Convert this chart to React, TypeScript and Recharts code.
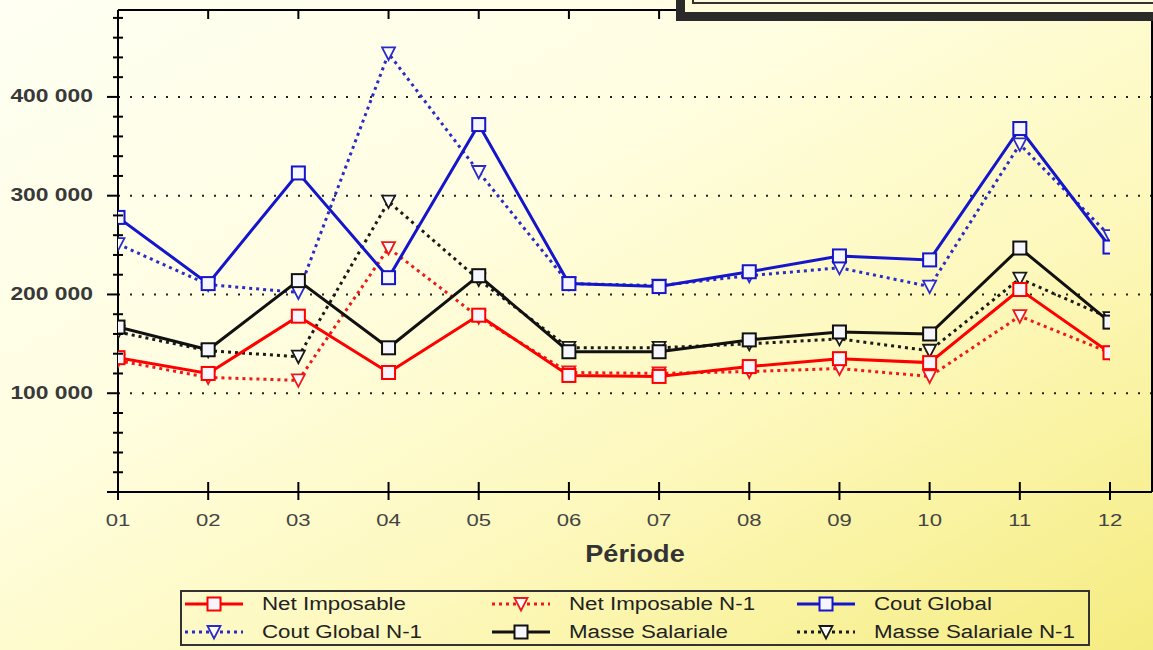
import React from 'react';
import { LineChart, Line, XAxis, YAxis, CartesianGrid, Legend, Label } from 'recharts';

const PERIODS = ['01', '02', '03', '04', '05', '06', '07', '08', '09', '10', '11', '12'];

const NET_IMPOSABLE = [136000, 120000, 178000, 121000, 179000, 118000, 117000, 127000, 135000, 131000, 205000, 141000];
const NET_IMPOSABLE_N1 = [133000, 116000, 113000, 247000, 177000, 121000, 120000, 122000, 125000, 117000, 178000, 141000];
const COUT_GLOBAL = [278000, 211000, 323000, 217000, 372000, 211000, 208000, 223000, 239000, 235000, 368000, 248000];
const COUT_GLOBAL_N1 = [251000, 210000, 202000, 444000, 324000, 211000, 209000, 219000, 227000, 208000, 352000, 259000];
const MASSE_SALARIALE = [167000, 144000, 214000, 146000, 219000, 142000, 142000, 154000, 162000, 160000, 247000, 172000];
const MASSE_SALARIALE_N1 = [162000, 143000, 137000, 294000, 215000, 146000, 146000, 150000, 155000, 143000, 216000, 176000];

const Y_TICKS = [0, 20000, 40000, 60000, 80000, 100000, 120000, 140000, 160000, 180000, 200000, 220000, 240000, 260000, 280000, 300000, 320000, 340000, 360000, 380000, 400000, 420000, 440000, 460000, 480000];
const Y_GRID = [100000, 200000, 300000, 400000];
const Y_LABELS: Record<number, string> = { 100000: '100 000', 200000: '200 000', 300000: '300 000', 400000: '400 000' };
const Y_MAX = 488000;
const X_TITLE = 'Période';

type Series = { key: string; name: string; values: number[]; color: string; dotted: boolean };

const SERIES: Series[] = [
  { key: 'ni', name: 'Net Imposable', values: NET_IMPOSABLE, color: '#FF0000', dotted: false },
  { key: 'ni1', name: 'Net Imposable N-1', values: NET_IMPOSABLE_N1, color: '#F01818', dotted: true },
  { key: 'cg', name: 'Cout Global', values: COUT_GLOBAL, color: '#1515CC', dotted: false },
  { key: 'cg1', name: 'Cout Global N-1', values: COUT_GLOBAL_N1, color: '#2B2BC8', dotted: true },
  { key: 'ms', name: 'Masse Salariale', values: MASSE_SALARIALE, color: '#111111', dotted: false },
  { key: 'ms1', name: 'Masse Salariale N-1', values: MASSE_SALARIALE_N1, color: '#1A1A1A', dotted: true },
];

const data = PERIODS.map((p, i) => {
  const row: Record<string, string | number> = { period: p };
  SERIES.forEach((s) => { row[s.key] = s.values[i]; });
  return row;
});

const FONT = 'Arial, "Liberation Sans", sans-serif';

const Marker = ({ cx, cy, color, dotted }: { cx: number; cy: number; color: string; dotted: boolean }) => {
  if (dotted) {
    return (
      <polygon
        points={`${cx - 6.5},${cy - 6} ${cx + 6.5},${cy - 6} ${cx},${cy + 6.5}`}
        fill="#FFFFFF"
        stroke={color}
        strokeWidth={1.8}
      />
    );
  }
  return <rect x={cx - 6.5} y={cy - 6.5} width={13} height={13} fill="#F6F6FF" stroke={color} strokeWidth={2} />;
};

const makeDot = (s: Series) => (props: any) => {
  const { cx, cy, index } = props;
  if (cx == null || cy == null) return <g key={`${s.key}-${index}`} />;
  return (
    <g key={`${s.key}-${index}`}>
      <Marker cx={cx} cy={cy} color={s.color} dotted={s.dotted} />
    </g>
  );
};

const LeftYTick = (props: any) => {
  const { x, y, payload } = props;
  const v = payload.value as number;
  const major = v % 100000 === 0;
  const label = Y_LABELS[v];
  return (
    <g>
      {major ? (
        <line x1={x - 11} x2={x} y1={y} y2={y} stroke="#000" strokeWidth={2} />
      ) : (
        <line x1={x - 5} x2={x + 5} y1={y} y2={y} stroke="#000" strokeWidth={2} />
      )}
      {label && (
        <text
          transform={`translate(${x - 25},${y + 5.5}) scale(1.27,1)`}
          textAnchor="end"
          fontFamily={FONT}
          fontWeight="bold"
          fontSize={18}
          fill="#383838"
        >
          {label}
        </text>
      )}
    </g>
  );
};

const RightYTick = (props: any) => {
  const { x, y, payload } = props;
  const v = payload.value as number;
  const major = v % 100000 === 0;
  return <line x1={x - (major ? 10 : 6)} x2={x} y1={y} y2={y} stroke="#000" strokeWidth={2} />;
};

const BottomXTick = (props: any) => {
  const { x, y, payload } = props;
  return (
    <g>
      <line x1={x} x2={x} y1={y - 10} y2={y + 8} stroke="#000" strokeWidth={2} />
      <text
        transform={`translate(${x},${y + 34}) scale(1.3,1)`}
        textAnchor="middle"
        fontFamily={FONT}
        fontSize={17}
        fill="#444"
      >
        {payload.value}
      </text>
    </g>
  );
};

const TopXTick = (props: any) => {
  const { x, y } = props;
  return <line x1={x} x2={x} y1={y} y2={y + 9} stroke="#000" strokeWidth={2} />;
};

const PeriodLabel = (props: any) => {
  const vb = props.viewBox || {};
  return (
    <text
      transform={`translate(${vb.x + vb.width / 2},${vb.y + 70}) scale(1.13,1)`}
      textAnchor="middle"
      fontFamily={FONT}
      fontWeight="bold"
      fontSize={24}
      fill="#333"
    >
      {X_TITLE}
    </text>
  );
};

const LEGEND_COLS = [5, 312, 617];
const LEGEND_ROWS = [14, 42];

const LegendBox = () => (
  <div
    style={{
      position: 'relative',
      width: 910,
      height: 56,
      border: '2px solid #333',
      boxSizing: 'border-box',
      fontFamily: FONT,
    }}
  >
    {SERIES.map((s, i) => {
      const col = LEGEND_COLS[i % 3];
      const row = LEGEND_ROWS[Math.floor(i / 3)];
      return (
        <div key={s.key}>
          <svg
            width={58}
            height={20}
            style={{ position: 'absolute', left: col - 2, top: row - 12 }}
          >
            <line
              x1={0}
              x2={58}
              y1={10}
              y2={10}
              stroke={s.color}
              strokeWidth={3}
              strokeDasharray={s.dotted ? '3 4' : undefined}
            />
            <Marker cx={29} cy={10} color={s.color} dotted={s.dotted} />
          </svg>
          <div
            style={{
              position: 'absolute',
              left: col + 75,
              top: row - 12,
              fontSize: 18,
              lineHeight: '20px',
              color: '#222',
              whiteSpace: 'nowrap',
              transform: 'scaleX(1.24)',
              transformOrigin: 'left center',
            }}
          >
            {s.name}
          </div>
        </div>
      );
    })}
  </div>
);

const DRAW_ORDER = ['cg1', 'ms1', 'ni1', 'cg', 'ms', 'ni'];

export default function App() {
  return (
    <div
      style={{
        position: 'fixed',
        left: 0,
        top: 0,
        width: 1153,
        height: 650,
        overflow: 'hidden',
        background:
          'linear-gradient(to bottom right, #FFFFF3 0%, #FFFEE2 35%, #FDF8BC 65%, #F5EC80 100%)',
      }}
    >
      <LineChart
        width={1153}
        height={650}
        data={data}
        margin={{ top: 9, right: 0, left: 0, bottom: 62 }}
      >
        <CartesianGrid
          horizontal
          vertical={false}
          horizontalValues={Y_GRID}
          stroke="#222"
          strokeWidth={2}
          strokeDasharray="2 10"
          yAxisId="left"
        />
        <XAxis
          dataKey="period"
          height={96}
          padding={{ left: 0, right: 42 }}
          interval={0}
          tickSize={0}
          tickMargin={0}
          tickLine={false}
          tick={<BottomXTick />}
          axisLine={{ stroke: '#000', strokeWidth: 2 }}
          allowDataOverflow
        >
          <Label content={<PeriodLabel />} />
        </XAxis>
        <XAxis
          xAxisId="top"
          dataKey="period"
          orientation="top"
          height={1}
          padding={{ left: 0, right: 42 }}
          interval={0}
          tickSize={0}
          tickMargin={0}
          tickLine={false}
          tick={<TopXTick />}
          axisLine={{ stroke: '#000', strokeWidth: 2 }}
        />
        <YAxis
          yAxisId="left"
          width={118}
          domain={[0, Y_MAX]}
          ticks={Y_TICKS}
          interval={0}
          type="number"
          tickSize={0}
          tickMargin={0}
          tickLine={false}
          tick={<LeftYTick />}
          axisLine={{ stroke: '#000', strokeWidth: 2 }}
          allowDataOverflow
        />
        <YAxis
          yAxisId="right"
          orientation="right"
          width={1}
          domain={[0, Y_MAX]}
          ticks={Y_TICKS}
          interval={0}
          type="number"
          tickSize={0}
          tickMargin={0}
          tickLine={false}
          tick={<RightYTick />}
          axisLine={{ stroke: '#000', strokeWidth: 2 }}
        />
        <Legend
          layout="horizontal"
          verticalAlign="middle"
          align="center"
          wrapperStyle={{ left: 180, top: 590, width: 910, height: 56 }}
          content={() => <LegendBox />}
        />
        {DRAW_ORDER.map((k) => {
          const s = SERIES.find((x) => x.key === k)!;
          return (
            <Line
              key={s.key}
              yAxisId="left"
              type="linear"
              dataKey={s.key}
              name={s.name}
              stroke={s.color}
              strokeWidth={3}
              strokeDasharray={s.dotted ? '3 4' : undefined}
              dot={makeDot(s)}
              activeDot={false}
              isAnimationActive={false}
            />
          );
        })}
      </LineChart>
      <div
        style={{
          position: 'absolute',
          left: 676,
          top: -30,
          width: 500,
          height: 51,
          boxSizing: 'border-box',
          border: '9px solid #2A2A2A',
          background: '#FFFCDA',
        }}
      >
        <div
          style={{
            position: 'absolute',
            left: 7,
            top: 0,
            width: 500,
            height: 25,
            boxSizing: 'border-box',
            border: '2px solid #333',
          }}
        />
      </div>
    </div>
  );
}
